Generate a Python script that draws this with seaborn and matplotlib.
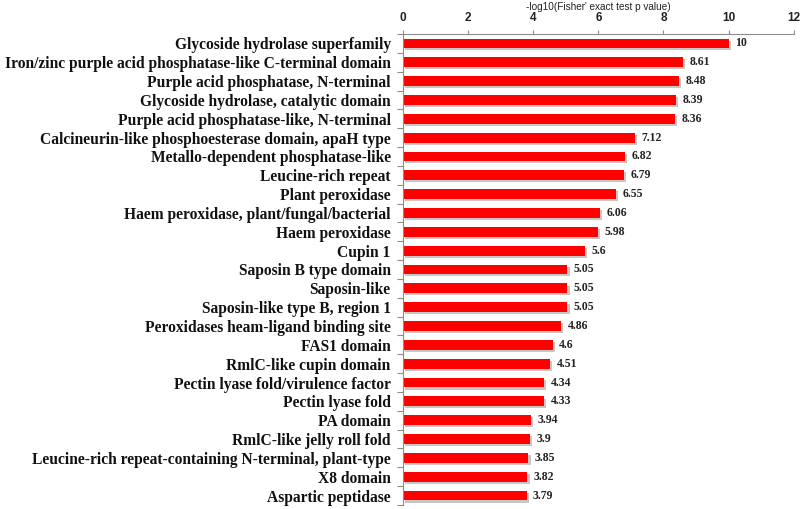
import matplotlib
matplotlib.use("Agg")
import matplotlib.pyplot as plt
import matplotlib.patheffects as pe
import seaborn as sns
import pandas as pd
import numpy as np

categories = [
    "Glycoside hydrolase superfamily",
    "Iron/zinc purple acid phosphatase-like C-terminal domain",
    "Purple acid phosphatase, N-terminal",
    "Glycoside hydrolase, catalytic domain",
    "Purple acid phosphatase-like, N-terminal",
    "Calcineurin-like phosphoesterase domain, apaH type",
    "Metallo-dependent phosphatase-like",
    "Leucine-rich repeat",
    "Plant peroxidase",
    "Haem peroxidase, plant/fungal/bacterial",
    "Haem peroxidase",
    "Cupin 1",
    "Saposin B type domain",
    "Saposin-like",
    "Saposin-like type B, region 1",
    "Peroxidases heam-ligand binding site",
    "FAS1 domain",
    "RmlC-like cupin domain",
    "Pectin lyase fold/virulence factor",
    "Pectin lyase fold",
    "PA domain",
    "RmlC-like jelly roll fold",
    "Leucine-rich repeat-containing N-terminal, plant-type",
    "X8 domain",
    "Aspartic peptidase",
]
values = [10, 8.61, 8.48, 8.39, 8.36, 7.12, 6.82, 6.79, 6.55, 6.06, 5.98, 5.6,
          5.05, 5.05, 5.05, 4.86, 4.6, 4.51, 4.34, 4.33, 3.94, 3.9, 3.85, 3.82, 3.79]
value_labels = ["10", "8.61", "8.48", "8.39", "8.36", "7.12", "6.82", "6.79", "6.55",
                "6.06", "5.98", "5.6", "5.05", "5.05", "5.05", "4.86", "4.6", "4.51",
                "4.34", "4.33", "3.94", "3.9", "3.85", "3.82", "3.79"]
x_ticks = [0, 2, 4, 6, 8, 10, 12]
x_title = "-log10(Fisher' exact test p value)"

sns.set_theme(style="white")
plt.rcParams['font.family'] = ['Liberation Serif', 'DejaVu Serif']

df = pd.DataFrame({"category": categories, "value": values})

fig = plt.figure(figsize=(8.0, 5.09), dpi=100)
ax = fig.add_axes([0.504, 0.0079, 0.488, 0.9253])

sns.barplot(data=df, x="value", y="category", orient="h", color="#FF0000",
            saturation=1, width=0.52, ax=ax, edgecolor="none")

for p in ax.patches:
    p.set_path_effects([pe.SimplePatchShadow(offset=(1.5, -1.5), shadow_rgbFace="#a0a0a0", alpha=0.6),
                        pe.Normal()])

for i, (v, lab) in enumerate(zip(values, value_labels)):
    ax.text(v + 0.2, i, lab, va="center", ha="left", fontsize=8.5,
            fontweight="bold", color="#222222")

ax.set_xlim(0, 12)
ax.set_ylim(len(categories) - 0.5, -0.5)
ax.xaxis.tick_top()
ax.xaxis.set_label_position("top")
ax.set_xticks(x_ticks)
ax.set_xticklabels([str(t) for t in x_ticks], fontsize=8.5, fontweight="bold",
                   family=['Liberation Sans', 'DejaVu Sans'], color="#222222")
ax.set_xlabel(x_title, fontsize=7.2, family=['Liberation Sans', 'DejaVu Sans'],
              labelpad=1.5, color="#222222")
ax.tick_params(axis="x", which="major", direction="out", length=3, width=0.8,
               color="#8c8c8c", pad=4, top=True, bottom=False)

ax.set_ylabel("")
ax.set_yticks(range(len(categories)))
ax.set_yticklabels(categories, fontsize=11.2, fontweight="bold", color="#111111")
ax.tick_params(axis="y", which="major", length=0, pad=9)
ax.set_yticks(np.arange(-0.5, len(categories), 1.0), minor=True)
ax.tick_params(axis="y", which="minor", direction="out", length=4, width=0.8,
               color="#8c8c8c", left=True)

for s in ["right", "bottom"]:
    ax.spines[s].set_visible(False)
for s in ["left", "top"]:
    ax.spines[s].set_color("#8c8c8c")
    ax.spines[s].set_linewidth(0.8)

fig.savefig("out.png", dpi=100, facecolor="white")
